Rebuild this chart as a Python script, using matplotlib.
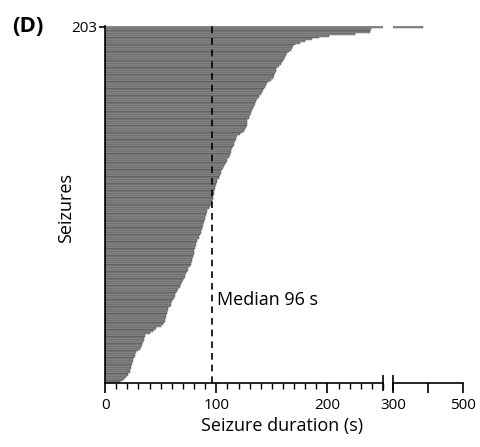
import numpy as np
import matplotlib
matplotlib.use("Agg")
import matplotlib.pyplot as plt
from matplotlib.ticker import MultipleLocator

plt.rcParams['font.family'] = ['Open Sans', 'DejaVu Sans']

# seizure durations (s), sorted ascending, one per seizure (n = 203)
durations = [
    13, 15, 17, 19, 21, 21, 22, 22, 23, 23,
    24, 24, 25, 25, 26, 27, 27, 28, 30, 31,
    32, 33, 33, 34, 35, 35, 36, 36, 40, 43,
    45, 46, 50, 52, 53, 54, 54, 55, 55, 56,
    56, 57, 57, 58, 59, 59, 60, 61, 62, 63,
    63, 64, 65, 66, 67, 67, 68, 69, 70, 71,
    72, 72, 73, 74, 75, 75, 76, 77, 77, 78,
    78, 79, 79, 80, 80, 80, 81, 81, 82, 82,
    83, 83, 84, 84, 85, 86, 86, 87, 87, 88,
    88, 89, 89, 90, 90, 91, 91, 92, 92, 93,
    94, 96, 96, 96, 97, 97, 97, 98, 98, 98,
    99, 99, 100, 100, 101, 101, 102, 102, 103, 104,
    104, 105, 106, 107, 108, 109, 110, 110, 111, 112,
    112, 113, 113, 114, 115, 116, 116, 117, 118, 118,
    119, 121, 123, 125, 126, 127, 128, 128, 128, 128,
    129, 129, 130, 131, 131, 132, 133, 134, 135, 135,
    136, 137, 138, 138, 140, 141, 142, 143, 144, 145,
    146, 147, 149, 151, 152, 152, 153, 154, 154, 155,
    156, 158, 159, 160, 161, 162, 163, 164, 165, 167,
    168, 169, 171, 175, 180, 186, 192, 201, 225, 238,
    238, 239, 385,
]
median_s = 96
left_ticks = [0, 100, 200]
right_ticks = [300, 400, 500]
right_labels = ['300', '', '500']

n = len(durations)
ranks = np.arange(1, n + 1)

fig = plt.figure(figsize=(4.8, 4.47), dpi=100)
ax1 = fig.add_axes([0.219, 0.143, 0.579, 0.799])
ax2 = fig.add_axes([0.819, 0.143, 0.146, 0.799], sharey=ax1)

for ax in (ax1, ax2):
    ax.barh(ranks, durations, height=1.0, color='#959595',
            edgecolor='#2a2a2a', linewidth=0.25)
    ax.spines['top'].set_visible(False)
    ax.spines['right'].set_visible(False)
    ax.spines['bottom'].set_linewidth(1.2)
    ax.tick_params(axis='x', which='major', length=7, width=1.2, labelsize=11, pad=4)
    ax.tick_params(axis='x', which='minor', length=4, width=1.0)

ax1.set_xlim(0, 250)
ax1.set_ylim(0.5, n + 0.6)
ax1.set_xticks(left_ticks)
ax1.xaxis.set_minor_locator(MultipleLocator(10))
ax1.spines['left'].set_linewidth(1.2)
ax1.set_yticks([n])
ax1.set_yticklabels([str(n)])
ax1.tick_params(axis='y', length=4, width=1.2, labelsize=11, pad=2)
ax1.axvline(median_s, color='black', linestyle=(0, (4, 3)), linewidth=1.2, zorder=5)
ax1.text(median_s + 5, 48, 'Median %d s' % median_s, fontsize=13, va='center')
ax1.set_ylabel('Seizures', fontsize=13)
ax1.yaxis.set_label_coords(-0.108, 0.49)

ax2.set_xlim(300, 500)
ax2.set_xticks(right_ticks)
ax2.set_xticklabels(right_labels)
ax2.spines['left'].set_visible(False)
ax2.tick_params(axis='y', left=False, labelleft=False)

# break marks at the ends of the two axis pieces
ax1.plot([1], [0], transform=ax1.transAxes, marker='|', markersize=12,
         mew=1.2, color='black', clip_on=False)
ax2.plot([0], [0], transform=ax2.transAxes, marker='|', markersize=12,
         mew=1.2, color='black', clip_on=False)

fig.text(0.587, 0.035, 'Seizure duration (s)', fontsize=13, ha='center')
fig.text(0.025, 0.928, '(D)', fontsize=16, fontweight='bold')

fig.savefig('out.png', dpi=100)
